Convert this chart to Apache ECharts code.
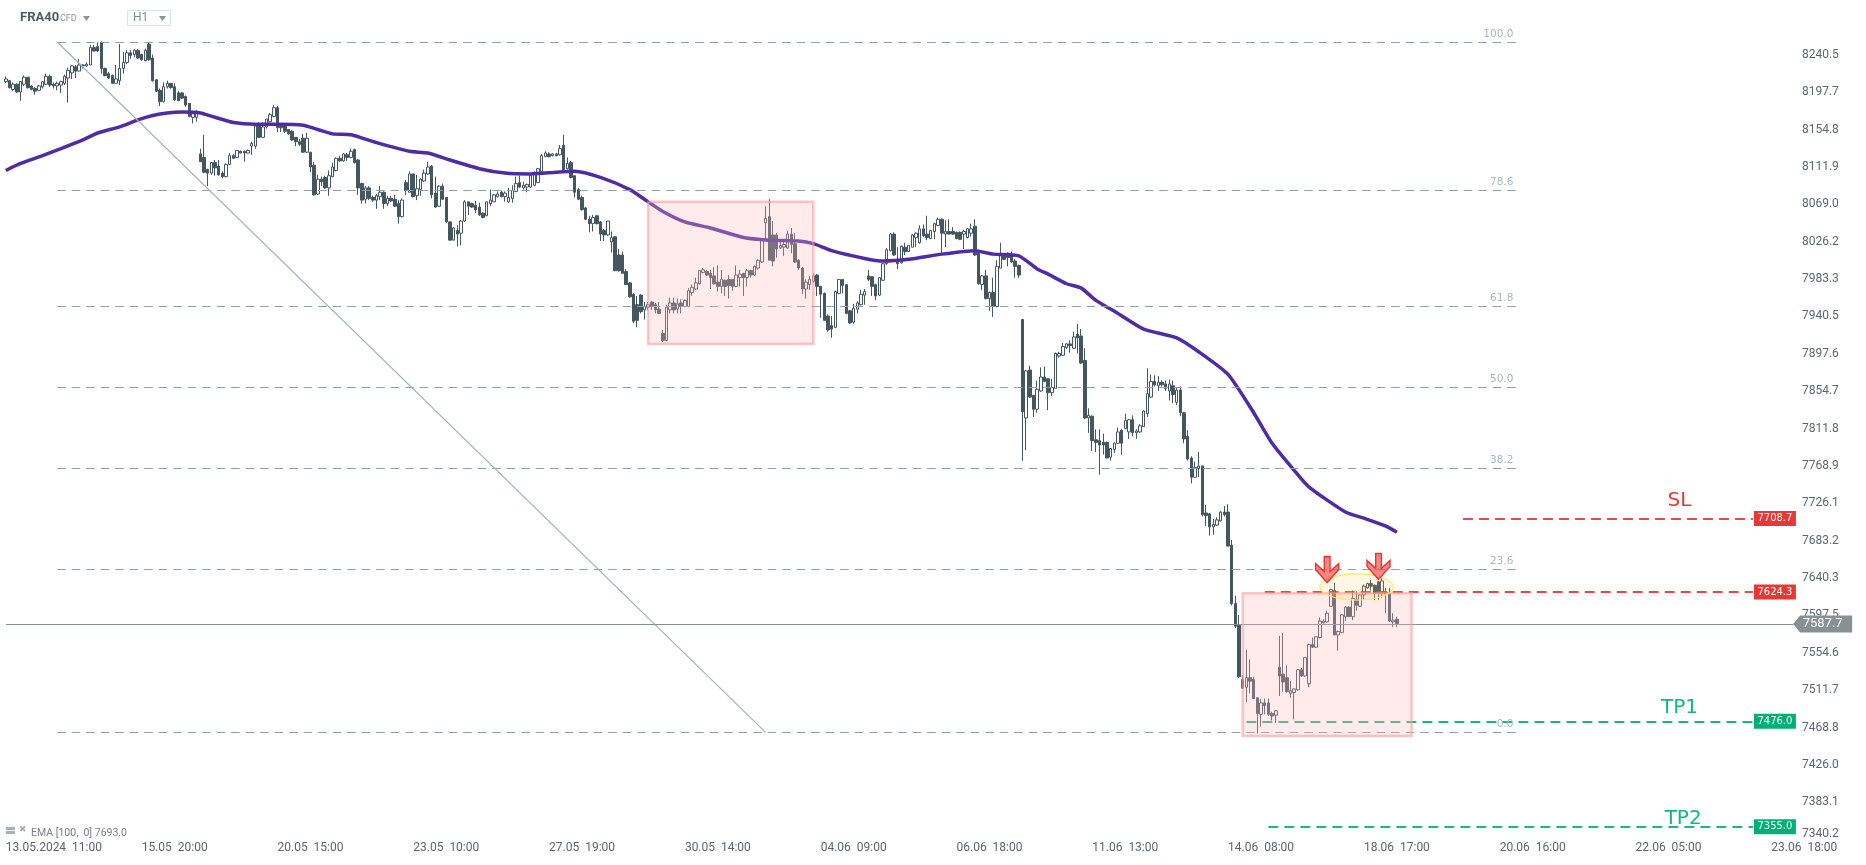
<!DOCTYPE html>
<html>
<head>
<meta charset="utf-8">
<title>FRA40</title>
<script src="https://cdn.jsdelivr.net/npm/echarts@6/dist/echarts.min.js"></script>
<style>
html, body { margin: 0; padding: 0; background: #fff; }
#chart { width: 1866px; height: 865px; }
</style>
</head>
<body>
<div id="chart"></div>
<script>
// hourly bars: [open, close, low, high]
var ohlc = [
[8210,8213,8208,8216],[8211,8203,8202,8212],[8201,8207,8199,8209],[8207,8198,8197,8208],[8198,8210,8188,8210],[8207,8215,8205,8217],[8215,8203,8202,8215],[8205,8201,8200,8206],[8202,8199,8195,8204],[8200,8205,8199,8206],
[8204,8210,8202,8210],[8207,8216,8206,8219],[8216,8206,8204,8218],[8207,8205,8202,8209],[8205,8208,8200,8210],[8206,8210,8197,8211],[8208,8216,8206,8218],[8214,8223,8186,8226],[8220,8228,8213,8229],[8227,8222,8214,8229],
[8222,8229,8222,8236],[8229,8228,8225,8230],[8228,8230,8227,8232],[8229,8249,8229,8252],[8249,8245,8245,8252],[8250,8245,8244,8255],[8255,8225,8219,8256],[8225,8217,8216,8226],[8219,8214,8213,8221],[8217,8208,8207,8218],
[8208,8213,8208,8229],[8211,8225,8206,8253],[8225,8232,8219,8244],[8232,8243,8230,8246],[8243,8240,8236,8246],[8241,8246,8238,8247],[8246,8237,8236,8247],[8241,8235,8234,8242],[8234,8246,8233,8248],[8253,8235,8234,8255],
[8237,8211,8210,8241],[8212,8199,8198,8213],[8200,8187,8182,8202],[8187,8204,8186,8209],[8204,8208,8202,8211],[8208,8203,8202,8208],[8204,8189,8188,8208],[8197,8188,8188,8199],[8197,8191,8190,8198],[8193,8183,8181,8194],
[8185,8170,8169,8185],[8169,8173,8162,8176],[8169,8176,8164,8177],[8127,8118,8118,8133],[8123,8106,8105,8149],[8109,8105,8090,8110],[8105,8117,8103,8118],[8117,8111,8102,8120],[8113,8103,8102,8120],[8105,8101,8099,8107],
[8101,8115,8100,8116],[8115,8125,8114,8128],[8125,8122,8121,8127],[8123,8131,8122,8131],[8130,8128,8128,8131],[8130,8128,8118,8131],[8128,8131,8128,8132],[8136,8139,8126,8141],[8136,8159,8133,8162],[8160,8146,8145,8163],
[8146,8158,8146,8163],[8158,8167,8156,8167],[8164,8172,8163,8174],[8170,8180,8169,8183],[8180,8157,8152,8182],[8159,8157,8152,8162],[8159,8153,8151,8160],[8155,8150,8149,8155],[8153,8143,8142,8154],[8146,8141,8136,8146],
[8141,8138,8136,8144],[8145,8129,8128,8150],[8129,8145,8128,8151],[8129,8112,8106,8129],[8114,8080,8079,8118],[8081,8098,8080,8103],[8098,8095,8090,8101],[8100,8088,8087,8102],[8088,8102,8079,8108],[8101,8112,8100,8117],
[8108,8122,8107,8123],[8122,8119,8118,8125],[8119,8127,8118,8128],[8126,8123,8119,8128],[8123,8130,8122,8133],[8132,8117,8116,8133],[8120,8088,8080,8121],[8093,8074,8070,8094],[8075,8088,8070,8090],[8088,8076,8074,8090],
[8077,8074,8072,8079],[8074,8079,8064,8081],[8078,8083,8074,8090],[8083,8070,8064,8084],[8070,8076,8067,8079],[8076,8073,8072,8079],[8075,8067,8066,8080],[8070,8055,8047,8074],[8055,8074,8054,8076],[8094,8085,8080,8097],
[8083,8104,8083,8107],[8104,8078,8077,8104],[8079,8087,8074,8103],[8086,8098,8079,8099],[8096,8105,8095,8109],[8104,8112,8103,8118],[8113,8080,8076,8114],[8082,8066,8065,8101],[8067,8090,8066,8091],[8090,8075,8074,8093],
[8077,8049,8048,8077],[8049,8028,8028,8049],[8028,8042,8028,8043],[8039,8035,8021,8045],[8036,8050,8022,8051],[8050,8072,8049,8074],[8072,8067,8057,8072],[8070,8066,8065,8071],[8068,8063,8059,8073],[8066,8057,8056,8071],
[8059,8054,8053,8060],[8056,8072,8056,8072],[8070,8074,8067,8086],[8072,8080,8072,8081],[8078,8081,8077,8084],[8083,8078,8077,8085],[8078,8082,8072,8084],[8072,8077,8071,8088],[8076,8085,8071,8091],[8084,8093,8083,8101],
[8094,8089,8088,8102],[8088,8091,8086,8095],[8089,8092,8083,8093],[8089,8102,8088,8103],[8091,8104,8090,8107],[8094,8110,8094,8111],[8107,8125,8106,8127],[8124,8128,8123,8130],[8127,8124,8123,8129],[8125,8127,8124,8128],
[8127,8125,8124,8128],[8126,8133,8125,8137],[8137,8109,8108,8149],[8110,8116,8109,8123],[8117,8100,8099,8119],[8102,8083,8077,8102],[8086,8075,8074,8088],[8077,8063,8062,8079],[8065,8052,8051,8066],[8052,8047,8037,8056],
[8047,8054,8038,8057],[8056,8047,8046,8057],[8049,8035,8027,8050],[8039,8034,8027,8041],[8034,8050,8033,8050],[8026,8031,8014,8038],[8032,7993,7993,8032],[8011,7993,7992,8018],[8011,7990,7990,8015],[7992,7977,7977,7995],
[7979,7963,7962,7980],[7966,7935,7933,7967],[7954,7936,7928,7964],[7965,7946,7944,7966],[7948,7952,7937,7957],[7951,7954,7948,7957],[7957,7952,7948,7958],[7954,7948,7944,7956],[7949,7944,7944,7957],[7921,7913,7911,7925],
[7913,7951,7912,7954],[7948,7956,7944,7962],[7956,7948,7944,7962],[7949,7955,7944,7961],[7956,7952,7944,7960],[7952,7959,7951,7960],[7952,7970,7951,7973],[7968,7974,7964,7977],[7972,7979,7971,7985],[7978,7993,7977,7994],
[7991,7994,7990,7996],[7992,7988,7987,7994],[7990,7985,7972,7994],[7987,7978,7977,7997],[7980,7975,7969,7999],[7975,7983,7967,7994],[7982,7975,7964,7983],[7983,7976,7961,7988],[7983,7975,7970,7983],[7975,7988,7974,7999],
[7985,7989,7975,7994],[7990,7985,7964,7990],[7985,7993,7975,7995],[7993,7988,7985,7994],[7988,7998,7987,7999],[7996,8005,7994,8006],[8003,8029,8002,8029],[8048,8053,8029,8067],[8055,8005,8005,8075],[8034,8004,7998,8050],
[8034,8018,8008,8036],[8019,8022,8018,8027],[8020,8023,8010,8029],[8019,8035,8018,8039],[8035,8023,8013,8042],[8024,8003,8002,8036],[8005,7996,7994,8006],[7996,7972,7966,7997],[7972,7980,7961,7983],[7977,7983,7971,7987],
[7981,7987,7979,7990],[7988,7975,7964,7989],[7975,7966,7939,7975],[7967,7936,7936,7968],[7941,7925,7923,7943],[7930,7926,7916,7941],[7928,7969,7927,7970],[7967,7983,7966,7983],[7983,7976,7967,7983],[7977,7944,7943,7977],
[7947,7933,7932,7948],[7934,7950,7932,7955],[7949,7956,7944,7958],[7954,7966,7953,7971],[7965,7969,7954,7972],[7987,7983,7981,7994],[7986,7975,7964,7987],[7977,7964,7959,7978],[7965,7985,7964,7985],[7982,8001,7981,8002],
[8001,8017,8000,8019],[8016,8035,8015,8036],[8035,8011,8010,8037],[8004,8001,7995,8020],[8002,8021,8001,8022],[8020,8015,8011,8025],[8015,8022,8015,8022],[8020,8034,8020,8035],[8031,8036,8020,8037],[8025,8041,8024,8045],
[8041,8033,8032,8046],[8035,8031,8028,8056],[8030,8039,8029,8040],[8038,8047,8029,8048],[8045,8052,8044,8054],[8052,8036,8013,8053],[8035,8038,8020,8051],[8038,8035,8035,8052],[8038,8035,8034,8043],[8037,8030,8029,8038],
[8037,8029,8028,8038],[8035,8038,8018,8040],[8031,8041,8030,8042],[8036,8041,8032,8047],[8044,8011,8010,8052],[8013,7978,7977,8014],[7977,7987,7971,7988],[7987,7961,7960,7994],[7961,7968,7947,7969],[7968,7952,7940,7985],
[7952,7998,7951,8005],[7996,8011,7996,8025],[8010,8006,8005,8011],[8013,8008,7998,8014],[8011,8003,8002,8015],[8004,7998,7985,8006],[7999,7988,7985,8000],[7937,7831,7775,7937],[7824,7878,7787,7879],[7879,7848,7847,7884],
[7850,7834,7825,7850],[7834,7857,7830,7867],[7855,7871,7854,7882],[7871,7866,7865,7883],[7869,7853,7833,7870],[7853,7859,7849,7869],[7858,7898,7858,7899],[7895,7898,7893,7900],[7896,7906,7895,7910],[7905,7909,7903,7910],
[7909,7907,7899,7913],[7904,7917,7903,7923],[7920,7916,7898,7932],[7918,7887,7886,7926],[7890,7824,7823,7904],[7824,7827,7807,7835],[7826,7798,7786,7827],[7799,7796,7785,7811],[7798,7793,7759,7811],[7796,7793,7782,7806],
[7796,7778,7778,7797],[7779,7789,7775,7789],[7788,7795,7784,7796],[7795,7808,7794,7813],[7810,7795,7782,7811],[7812,7821,7811,7829],[7808,7822,7800,7823],[7822,7807,7803,7827],[7807,7809,7800,7811],[7808,7815,7807,7817],
[7814,7832,7814,7833],[7829,7852,7825,7881],[7848,7866,7847,7874],[7866,7862,7860,7873],[7861,7865,7855,7872],[7865,7862,7860,7867],[7863,7858,7855,7867],[7855,7863,7844,7868],[7861,7851,7841,7867],[7842,7856,7839,7859],
[7856,7830,7826,7860],[7830,7800,7795,7831],[7803,7777,7775,7810],[7778,7756,7749,7780],[7756,7767,7756,7774],[7766,7769,7756,7785],[7769,7713,7711,7769],[7715,7712,7700,7724],[7714,7699,7689,7715],[7699,7702,7690,7708],
[7701,7707,7700,7710],[7706,7716,7705,7717],[7716,7713,7711,7723],[7716,7677,7677,7725],[7678,7611,7609,7684],[7611,7585,7583,7620],[7586,7527,7526,7598],[7524,7514,7514,7529],[7515,7526,7498,7558],[7526,7522,7508,7547],
[7524,7502,7502,7527],[7503,7485,7462,7503],[7484,7497,7470,7502],[7497,7494,7484,7502],[7497,7484,7482,7502],[7485,7482,7477,7487],[7483,7488,7474,7489],[7538,7528,7505,7574],[7530,7521,7510,7577],[7526,7510,7509,7540],
[7508,7511,7503,7522],[7509,7513,7478,7514],[7512,7535,7511,7536],[7535,7528,7527,7537],[7528,7549,7527,7549],[7519,7564,7515,7565],[7564,7561,7560,7572],[7561,7573,7560,7573],[7572,7591,7571,7595],[7589,7591,7588,7593],
[7590,7600,7589,7603],[7608,7627,7607,7628],[7626,7575,7575,7635],[7575,7579,7557,7580],[7578,7598,7577,7599],[7596,7607,7591,7608],[7607,7596,7596,7608],[7596,7617,7592,7626],[7616,7609,7603,7625],[7608,7621,7607,7622],
[7621,7631,7615,7633],[7629,7634,7628,7635],[7634,7631,7626,7638],[7632,7623,7615,7633],[7636,7623,7615,7637],[7623,7637,7618,7640],[7622,7624,7600,7629],[7622,7591,7590,7629],[7590,7592,7584,7600],[7593,7588,7584,7596]
];

// EMA 100 read at these bars
var emaBars = [0,4,10,15,21,25,31,36,40,44,48,53,57,62,68,74,81,85,89,94,101,110,115,121,129,136,143,150,155,162,170,175,179,185,192,201,208,216,220,225,234,239,246,255,264,269,276,281,284,289,293,297,303,310,319,325,333,340,345,351,355,365,370,376,379];
var emaValues = [8108,8116,8125,8133,8143,8151,8158,8166,8171,8174,8175,8174,8169,8163,8161,8161,8160,8155,8150,8149,8140,8130,8128,8120,8110,8105,8104,8106,8107,8100,8086,8072,8061,8049,8042,8031,8028,8027,8024,8016,8007,8004,8006,8012,8016,8012,8010,7995,7989,7978,7973,7959,7944,7926,7916,7900,7874,7830,7795,7764,7745,7716,7709,7700,7693];

var priceTicks = [7340.2,7383.1,7426.0,7468.8,7511.7,7554.6,7597.5,7640.3,7683.2,7726.1,7768.9,7811.8,7854.7,7897.6,7940.5,7983.3,8026.2,8069.0,8111.9,8154.8,8197.7,8240.5];
var timeIdx = [0,46,83,120,157,194,231,268,305,342,379,416,453,490];
var timeTicks = ['13.05.2024  11:00','15.05  20:00','20.05  15:00','23.05  10:00','27.05  19:00','30.05  14:00','04.06  09:00','06.06  18:00','11.06  13:00','14.06  08:00','18.06  17:00','20.06  16:00','22.06  05:00','23.06  18:00'];

var fibNames = ['100.0','78.6','61.8','50.0','38.2','23.6','0.0'];
var fibPrices = [8255.4,8085.2,7952.1,7859.2,7766.6,7650.7,7463.3];

var levelNames = ['SL','','TP1','TP2'];
var levelPrices = [7708.7,7624.3,7476.0,7355.0];
var levelStart = [397,343,338,344];
var levelColors = ['#e53935','#e53935','#00b074','#00b074'];

var lastPrice = 7587.7;
var barCount = 507;

var categories = [];
for (var i = 0; i < barCount; i++) categories.push('');
timeIdx.forEach(function(k, n) { categories[k] = timeTicks[n]; });

var fibLines = fibPrices.map(function(p) {
	return [ { coord: [14, p] }, { coord: [412, p] } ];
});
var fibLabels = fibPrices.map(function(p, n) {
	return {
		coord: [411, p], symbol: 'circle', symbolSize: 0,
		label: { show: true, position: 'inside', align: 'right', offset: [-1, -8], formatter: fibNames[n], color: '#a9b6bf', fontSize: 10.5, fontFamily: 'DejaVu Sans' }
	};
});
var levelLines = levelPrices.map(function(p, n) {
	return [ { coord: [levelStart[n], p], lineStyle: { color: levelColors[n], width: 2, type: [10, 6], opacity: 0.9 } }, { coord: [476, p] } ];
});
var levelTags = levelPrices.map(function(p, n) {
	return {
		coord: [482, p], symbol: 'rect', symbolSize: [42, 15],
		itemStyle: { color: levelColors[n] },
		label: { show: true, position: 'inside', formatter: p.toFixed(1), color: '#fff', fontSize: 10, fontFamily: 'DejaVu Sans' }
	};
});
var levelTexts = [ [456, 7728.5, 0], [456, 7492, 2], [457, 7364.5, 3] ].map(function(t) {
	return {
		coord: [t[0], t[1]], symbol: 'circle', symbolSize: 0,
		label: { show: true, position: 'inside', formatter: levelNames[t[2]], color: t[2] ? '#10b981' : '#e53935', fontSize: 20, fontFamily: 'DejaVu Sans' }
	};
});

var option = {
	animation: false,
	backgroundColor: '#fff',
	grid: { left: 4, top: 0, width: 1864, height: 839.6 },
	xAxis: {
		type: 'category',
		data: categories,
		axisLine: { show: false },
		axisTick: { show: false },
		splitLine: { show: false },
		axisLabel: { interval: 0, margin: 2, alignMinLabel: 'left', color: '#5b666e', fontSize: 12, fontFamily: 'Roboto', lineHeight: 12 }
	},
	yAxis: {
		type: 'value',
		position: 'right',
		min: 7340.2,
		max: 8303.6,
		axisLine: { show: false },
		axisTick: { show: false },
		splitLine: { show: false },
		axisLabel: {
			inside: true, margin: 26, color: '#5b666e', fontSize: 12, fontFamily: 'Roboto',
			customValues: priceTicks, verticalAlignMinLabel: 'bottom', padding: [3, 0, 0, 0],
			formatter: function(v) { return v.toFixed(1); }
		}
	},
	series: [
		{
			name: 'FRA40',
			type: 'candlestick',
			z: 2,
			barWidth: 3,
			data: ohlc,
			itemStyle: { color: '#ffffff', color0: '#44565f', borderColor: '#44565f', borderColor0: '#44565f', borderWidth: 1 }
		},
		{
			name: 'EMA',
			type: 'line',
			z: 3,
			data: emaBars.map(function(b, n) { return [b, emaValues[n]]; }),
			showSymbol: false,
			symbol: 'none',
			smooth: 0.2,
			lineStyle: { color: '#4f2ca5', width: 3.5 }
		},
		{
			name: 'notes',
			type: 'line',
			z: 4,
			data: [],
			silent: true,
			markLine: {
				z: 4, silent: true, symbol: 'none', label: { show: false },
				lineStyle: { color: '#8aa0ab', width: 1, type: [8.5, 6] },
				data: fibLines.concat([
					[ { coord: [14, 8255.4], lineStyle: { color: '#a3b3bd', width: 1.2, type: 'solid' } }, { coord: [207, 7463.3] } ],
					[ { coord: [0, lastPrice], lineStyle: { color: '#858f95', width: 1.2, type: 'solid' } }, { coord: [487, lastPrice] } ]
				]).concat(levelLines)
			},
			markArea: {
				z: 6, silent: true,
				itemStyle: { color: 'rgba(255,186,186,0.29)', borderColor: 'rgba(255,150,150,0.55)', borderWidth: 2.5 },
				data: [
					[ { xAxis: 175, yAxis: 8072 }, { xAxis: 220, yAxis: 7909 } ],
					[ { xAxis: 337, yAxis: 7623 }, { xAxis: 383, yAxis: 7459 } ]
				]
			},
			markPoint: {
				z: 7, silent: true,
				data: fibLabels.concat(levelTags).concat(levelTexts)
			}
		},
		{
			name: 'ellipse',
			type: 'custom',
			z: 8,
			silent: true,
			data: [ [358, 378, 7645, 7615] ],
			renderItem: function(params, api) {
				var a = api.coord([api.value(0), api.value(2)]);
				var b = api.coord([api.value(1), api.value(3)]);
				return {
					type: 'ellipse',
					shape: { cx: (a[0] + b[0]) / 2, cy: (a[1] + b[1]) / 2, rx: (b[0] - a[0]) / 2, ry: (b[1] - a[1]) / 2 },
					style: { fill: 'rgba(255,200,80,0.14)', stroke: '#ffe760', lineWidth: 1.2 }
				};
			}
		},
		{
			name: 'arrows',
			type: 'scatter',
			z: 9,
			silent: true,
			data: [ [360, 7650], [374, 7653.6] ],
			symbol: 'path://M9,0 H15 V15 L24,7 V13 L12,26 L0,13 V7 L9,15 Z',
			symbolSize: [23, 26],
			itemStyle: { color: 'rgba(239,83,80,0.7)', borderColor: '#e53935', borderWidth: 1.5, opacity: 1 }
		},
		{
			name: 'last',
			type: 'scatter',
			z: 10,
			silent: true,
			data: [ [495, lastPrice] ],
			symbol: 'path://M0,8.5 L7,0 H59 V17 H7 Z',
			symbolSize: [59, 17],
			itemStyle: { color: '#879194', opacity: 1 },
			label: { show: true, position: 'inside', formatter: lastPrice.toFixed(1), color: '#fff', fontSize: 13, fontFamily: 'Roboto' }
		}
	],
	graphic: [
		{ type: 'text', left: 20, top: 11, style: { text: 'FRA40', fill: '#4d5c66', font: 'bold 13px Roboto' } },
		{ type: 'text', left: 60, top: 14, style: { text: 'CFD', fill: '#8b959b', font: '9px Roboto' } },
		{ type: 'polygon', shape: { points: [[83, 16], [90, 16], [86.5, 21]] }, style: { fill: '#8b959b' } },
		{ type: 'rect', shape: { x: 127.5, y: 10.5, width: 43, height: 15 }, style: { fill: '#fff', stroke: '#dde1e4' } },
		{ type: 'text', left: 133, top: 12, style: { text: 'H1', fill: '#7f8b92', font: '12px Roboto' } },
		{ type: 'polygon', shape: { points: [[159, 16], [166, 16], [162.5, 21]] }, style: { fill: '#8b959b' } },
		{ type: 'rect', shape: { x: 6, y: 827, width: 9, height: 3 }, style: { fill: '#aab1b6' } },
		{ type: 'rect', shape: { x: 6, y: 831, width: 9, height: 3 }, style: { fill: '#aab1b6' } },
		{ type: 'text', left: 19, top: 825, style: { text: '✖', fill: '#aab1b6', font: '9px "DejaVu Sans"' } },
		{ type: 'text', left: 31, top: 828, style: { text: 'EMA [100,  0] 7693.0', fill: '#777f85', font: '10.5px Roboto' } }
	]
};

var chart = echarts.init(document.getElementById('chart'));
chart.setOption(option);
</script>
</body>
</html>
